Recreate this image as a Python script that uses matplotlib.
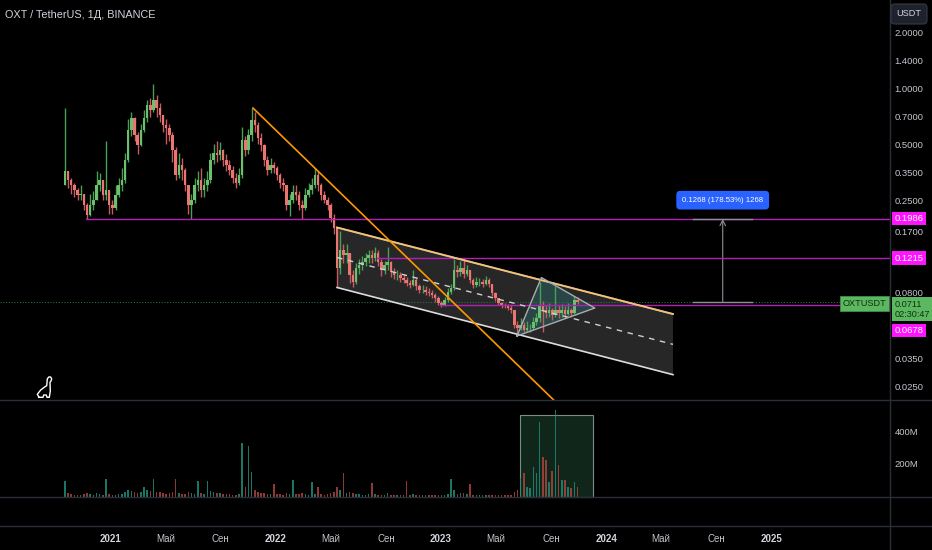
import numpy as np
import matplotlib
matplotlib.use('Agg')
import matplotlib.pyplot as plt
import matplotlib.dates as mdates
from matplotlib.ticker import NullLocator, NullFormatter
from matplotlib.transforms import blended_transform_factory
from matplotlib.patches import Polygon, Rectangle
from matplotlib.lines import Line2D

plt.rcParams['font.family'] = ['Liberation Sans', 'DejaVu Sans']

W, H = 932, 550
bg = '#000000'
sep = '#2a2e39'
txt = '#c3c6ce'

# weekly candles, OXT/USDT
start = '2020-09-21'
first_open = 0.30
closes = [0.36, 0.32, 0.30, 0.283, 0.266, 0.27, 0.235, 0.208, 0.235, 0.25,
          0.30, 0.32, 0.266, 0.283, 0.235, 0.227, 0.266, 0.30, 0.32, 0.41,
          0.595, 0.69, 0.56, 0.494, 0.595, 0.69, 0.81, 0.76, 0.86, 0.78,
          0.716, 0.633, 0.61, 0.56, 0.464, 0.341, 0.386, 0.362, 0.30, 0.235,
          0.25, 0.30, 0.32, 0.283, 0.30, 0.32, 0.41, 0.45, 0.436, 0.464,
          0.41, 0.386, 0.362, 0.33, 0.31, 0.341, 0.525, 0.464, 0.56, 0.673,
          0.633, 0.54, 0.494, 0.41, 0.362, 0.386, 0.37, 0.341, 0.31, 0.30,
          0.235, 0.25, 0.277, 0.266, 0.235, 0.227, 0.266, 0.283, 0.30, 0.341,
          0.30, 0.266, 0.25, 0.235, 0.20, 0.177, 0.108, 0.135, 0.127, 0.13,
          0.099, 0.091, 0.108, 0.112, 0.116, 0.122, 0.127, 0.122, 0.13, 0.116,
          0.105, 0.112, 0.116, 0.102, 0.099, 0.099, 0.095, 0.093, 0.090, 0.087,
          0.093, 0.086, 0.082, 0.082, 0.080, 0.079, 0.077, 0.074, 0.070, 0.068,
          0.0725, 0.080, 0.0838, 0.105, 0.102, 0.108, 0.100, 0.105, 0.093, 0.087,
          0.091, 0.091, 0.088, 0.093, 0.088, 0.079, 0.074, 0.070, 0.068, 0.067,
          0.066, 0.064, 0.053, 0.051, 0.053, 0.050, 0.051, 0.051, 0.055, 0.058,
          0.068, 0.064, 0.062, 0.064, 0.060, 0.064, 0.062, 0.064, 0.061, 0.064,
          0.062, 0.0725, 0.0711]
highs = [0.78, 0.36, 0.33, 0.31, 0.29, 0.30, 0.27, 0.24, 0.27, 0.28,
         0.36, 0.35, 0.30, 0.52, 0.28, 0.25, 0.30, 0.33, 0.37, 0.45,
         0.68, 0.74, 0.70, 0.58, 0.64, 0.76, 0.86, 0.88, 1.05, 0.92,
         0.83, 0.72, 0.68, 0.64, 0.58, 0.48, 0.45, 0.42, 0.37, 0.30,
         0.27, 0.33, 0.36, 0.37, 0.33, 0.36, 0.45, 0.50, 0.52, 0.51,
         0.47, 0.44, 0.41, 0.38, 0.35, 0.37, 0.62, 0.55, 0.60, 0.78,
         0.74, 0.66, 0.57, 0.50, 0.43, 0.42, 0.40, 0.38, 0.35, 0.33,
         0.30, 0.27, 0.30, 0.30, 0.28, 0.25, 0.29, 0.31, 0.33, 0.37,
         0.36, 0.31, 0.28, 0.26, 0.24, 0.21, 0.18, 0.17, 0.145, 0.145,
         0.13, 0.105, 0.115, 0.12, 0.125, 0.13, 0.135, 0.135, 0.14, 0.135,
         0.12, 0.118, 0.14, 0.118, 0.108, 0.105, 0.103, 0.10, 0.096, 0.093,
         0.105, 0.095, 0.088, 0.087, 0.086, 0.084, 0.082, 0.079, 0.076, 0.072,
         0.075, 0.084, 0.088, 0.12, 0.112, 0.118, 0.12, 0.112, 0.105, 0.095,
         0.096, 0.095, 0.094, 0.098, 0.095, 0.088, 0.080, 0.074, 0.071, 0.070,
         0.069, 0.068, 0.064, 0.056, 0.058, 0.055, 0.056, 0.054, 0.059, 0.062,
         0.091, 0.072, 0.068, 0.070, 0.066, 0.086, 0.068, 0.069, 0.067, 0.070,
         0.066, 0.076, 0.075]
lows = [0.30, 0.29, 0.27, 0.26, 0.25, 0.25, 0.22, 0.198, 0.205, 0.22,
        0.25, 0.28, 0.25, 0.25, 0.21, 0.21, 0.22, 0.26, 0.28, 0.31,
        0.40, 0.55, 0.52, 0.44, 0.49, 0.58, 0.66, 0.70, 0.74, 0.70,
        0.66, 0.58, 0.50, 0.52, 0.40, 0.32, 0.33, 0.32, 0.28, 0.21,
        0.198, 0.24, 0.28, 0.26, 0.26, 0.28, 0.31, 0.39, 0.40, 0.41,
        0.38, 0.36, 0.34, 0.31, 0.29, 0.30, 0.33, 0.43, 0.44, 0.52,
        0.58, 0.50, 0.46, 0.38, 0.34, 0.35, 0.35, 0.32, 0.29, 0.28,
        0.22, 0.205, 0.24, 0.25, 0.22, 0.197, 0.22, 0.26, 0.27, 0.29,
        0.28, 0.25, 0.24, 0.22, 0.19, 0.165, 0.085, 0.10, 0.115, 0.115,
        0.09, 0.085, 0.088, 0.10, 0.105, 0.11, 0.115, 0.115, 0.118, 0.11,
        0.098, 0.10, 0.105, 0.097, 0.094, 0.093, 0.091, 0.089, 0.086, 0.084,
        0.086, 0.082, 0.079, 0.079, 0.077, 0.076, 0.074, 0.071, 0.068, 0.0665,
        0.067, 0.071, 0.078, 0.082, 0.096, 0.098, 0.095, 0.098, 0.089, 0.084,
        0.085, 0.086, 0.085, 0.087, 0.085, 0.076, 0.072, 0.068, 0.066, 0.0655,
        0.064, 0.062, 0.051, 0.048, 0.050, 0.049, 0.049, 0.049, 0.050, 0.053,
        0.055, 0.049, 0.058, 0.059, 0.057, 0.059, 0.058, 0.059, 0.058, 0.060,
        0.059, 0.061, 0.069]
volumes = [99, 25, 18, 15, 12, 14, 20, 22, 16, 14,
           25, 20, 14, 111, 18, 14, 12, 16, 18, 30,
           45, 35, 28, 24, 30, 60, 40, 35, 112, 30,
           28, 22, 20, 24, 30, 107, 25, 20, 18, 28,
           24, 20, 99, 22, 18, 99, 35, 28, 22, 25,
           20, 18, 16, 15, 14, 20, 327, 60, 312, 150,
           40, 30, 25, 22, 20, 18, 80, 18, 16, 15,
           25, 20, 100, 18, 16, 22, 18, 15, 90, 20,
           60, 18, 15, 16, 22, 30, 60, 40, 145, 25,
           30, 22, 20, 16, 15, 14, 18, 85, 20, 15,
           14, 12, 25, 14, 12, 11, 12, 10, 99, 12,
           20, 12, 10, 9, 10, 9, 10, 12, 14, 12,
           15, 18, 110, 45, 20, 22, 25, 18, 80, 14,
           12, 11, 10, 12, 11, 15, 12, 10, 9, 10,
           9, 12, 30, 40, 115, 145, 60, 55, 182, 145,
           456, 244, 224, 90, 160, 527, 194, 103, 100, 60,
           55, 91, 60]

# drawings
levels = [0.1986, 0.1215, 0.0678]
level_start = ['2020-11-07', '2022-08-12', '2022-12-29']
last_price = 0.0711
chan_dates = ['2022-05-16', '2024-05-28']
chan_top = [0.178, 0.061]
chan_bot = [0.0847, 0.0288]
trend_dates = ['2021-11-11', '2023-10-22']
trend_prices = [0.781, 0.0165]
tri_dates = ['2023-06-18', '2023-08-11', '2023-12-07']
tri_prices = [0.0465, 0.0958, 0.0657]
meas_dates = ['2024-07-11', '2024-09-15', '2024-11-19']
meas_prices = [0.0711, 0.1979]
meas_text = '0.1268 (178.53%) 1268'
volbox_dates = ['2023-06-24', '2023-12-03']
volbox_top = 499
price_ticks = [2.0, 1.4, 1.0, 0.7, 0.5, 0.35, 0.25, 0.17, 0.08, 0.035, 0.025]
tick_dates = ['2021-01-01', '2021-05-01', '2021-09-01', '2022-01-01', '2022-05-01',
              '2022-09-01', '2023-01-01', '2023-05-01', '2023-09-01', '2024-01-01',
              '2024-05-01', '2024-09-01', '2025-01-01']
tick_labels = ['2021', 'Май', 'Сен', '2022', 'Май', 'Сен', '2023', 'Май', 'Сен',
               '2024', 'Май', 'Сен', '2025']


def dn(s):
    return mdates.date2num(np.datetime64(s))


def dl(lst):
    return [dn(s) for s in lst]


n = len(closes)
c = np.array(closes)
o = np.array([first_open] + closes[:-1])
hi = np.maximum(np.array(highs), np.maximum(o, c))
lo = np.minimum(np.array(lows), np.minimum(o, c))
dates = mdates.date2num(np.datetime64(start) + np.arange(n) * np.timedelta64(7, 'D'))
up = c >= o

fig = plt.figure(figsize=(W / 100, H / 100), dpi=100, facecolor=bg)
ax = fig.add_axes([0, 1 - 400 / H, 890 / W, 400 / H])
axv = fig.add_axes([0, 1 - 526 / H, 890 / W, 126 / H], sharex=ax)
for a in (ax, axv):
    a.set_facecolor(bg)
    for s in a.spines.values():
        s.set_visible(False)

x0 = dn('2021-01-01')
ax.set_xlim(x0 - 245.5, x0 + 1723)
ax.set_yscale('log')
ax.set_ylim(0.02105, 2.972)
xr = ax.get_xlim()[1]

# price pane
ax.add_patch(Polygon(list(zip(dl(chan_dates), chan_top)) + list(zip(dl(chan_dates)[::-1], chan_bot[::-1])),
                     closed=True, fc='#272727', ec='none', zorder=1))
mid = [np.sqrt(chan_top[0] * chan_bot[0]), np.sqrt(chan_top[1] * chan_bot[1])]
ax.plot(dl(chan_dates), chan_top, color='#eeeeee', lw=1.3, zorder=6)
ax.plot(dl(chan_dates), chan_top, color='#ff9800', lw=1.3, alpha=0.5, zorder=6)
ax.plot(dl(chan_dates), chan_bot, color='#dcdcdc', lw=1.2, zorder=6)
ax.plot(dl(chan_dates), mid, color='#d0d0d0', lw=1, ls=(0, (4, 4)), zorder=6)

ax.add_patch(Polygon(list(zip(dl(tri_dates), tri_prices)), closed=True,
                     fc='#2b9a9a', alpha=0.28, ec='none', zorder=2))
ax.plot(dl(tri_dates) + [dn(tri_dates[0])], tri_prices + [tri_prices[0]],
        color='#a9adb3', lw=1, zorder=6)

ax.axhline(last_price, color='#2f6e3c', lw=0.8, ls=(0, (1, 1.5)), zorder=2)
for lv, ls_ in zip(levels, level_start):
    ax.plot([dn(ls_), xr], [lv, lv], color='#b31fb5', lw=1, zorder=5)

wick_c = np.where(up, '#4a9f55', '#c65a64')
body_c = np.where(up, '#6cbf6e', '#e9766f')
ax.vlines(dates, lo, hi, colors=wick_c, lw=1.0, zorder=3)
ax.bar(dates, np.abs(c - o), bottom=np.minimum(o, c), width=5.6,
       color=body_c, linewidth=0, zorder=4)

ax.plot(dl(trend_dates), trend_prices, color='#ff9800', lw=1.2, zorder=7)

# measure tool
md = dl(meas_dates)
ax.plot([md[0], md[2]], [meas_prices[0]] * 2, color='#8d9096', lw=1, zorder=5)
ax.plot([md[0], md[2]], [meas_prices[1]] * 2, color='#8d9096', lw=1, zorder=5)
ax.annotate('', xy=(md[1], meas_prices[1]), xytext=(md[1], meas_prices[0]),
            arrowprops=dict(arrowstyle='->', color='#8d9096', lw=0.8, shrinkA=0, shrinkB=0))
ax.annotate(meas_text, xy=(md[1], meas_prices[1]), xytext=(0, 13.5), textcoords='offset points',
            ha='center', va='center', color='white', fontsize=5.6,
            bbox=dict(boxstyle='round,pad=0.75,rounding_size=0.5', fc='#2962ff', ec='none'))

ax.yaxis.tick_right()
ax.set_yticks(price_ticks)
ax.set_yticklabels([f'{t:.4f}' for t in price_ticks])
ax.yaxis.set_minor_locator(NullLocator())
ax.yaxis.set_minor_formatter(NullFormatter())
ax.tick_params(axis='y', length=0, pad=3.4, labelsize=6.8, labelcolor=txt)
ax.tick_params(axis='x', length=0, labelbottom=False)

# right scale labels
tr = blended_transform_factory(ax.transAxes, ax.transData)
for lv, dy in zip(levels, [0, 0, -18]):
    ax.annotate(f'{lv:.4f}', xy=(1.0, lv), xycoords=tr, xytext=(3.4, dy), textcoords='offset points',
                ha='left', va='center', color='white', fontsize=6.8, annotation_clip=False, zorder=10,
                bbox=dict(boxstyle='square,pad=0.25', fc='#ff14ff', ec='none'))
ax.annotate(f'{last_price:.4f}\n02:30:47', xy=(1.0, last_price), xycoords=tr, xytext=(3.0, -5.5),
            textcoords='offset points', ha='left', va='center', color='#10300f', fontsize=6.6,
            linespacing=1.2, annotation_clip=False, zorder=10,
            bbox=dict(boxstyle='square,pad=0.25', fc='#5cb860', ec='none'))
ax.annotate('OXTUSDT', xy=(1.0, last_price), xycoords=tr, xytext=(-2.4, -1.2),
            textcoords='offset points', ha='right', va='center', color='#10300f', fontsize=6.6,
            annotation_clip=False, zorder=10,
            bbox=dict(boxstyle='square,pad=0.3', fc='#5cb860', ec='#3f8f45', lw=0.6))

# volume pane
axv.set_ylim(-176, 588)
vd = dl(volbox_dates)
axv.add_patch(Rectangle((vd[0], 0), vd[1] - vd[0], volbox_top, fc='#10261a', ec='#7e8d83', lw=0.8, zorder=1))
vol_c = np.where(up, '#1f8a78', '#a8443f')
axv.bar(dates, volumes, width=3.4, color=vol_c, linewidth=0, alpha=0.85, zorder=2)
axv.yaxis.tick_right()
axv.set_yticks([200, 400])
axv.set_yticklabels(['200M', '400M'])
axv.tick_params(axis='y', length=0, pad=3.4, labelsize=6.8, labelcolor=txt)
axv.set_xticks(dl(tick_dates))
axv.set_xticklabels(tick_labels)
axv.tick_params(axis='x', length=0, pad=6, labelsize=7, labelcolor=txt)
for lab in axv.get_xticklabels():
    if lab.get_text().isdigit():
        lab.set_fontweight('bold')
        lab.set_color('#d1d4dc')

# separators
for yy in (400, 497, 526):
    fig.add_artist(Line2D([0, 1], [1 - yy / H] * 2, color=sep, lw=1))
fig.add_artist(Line2D([890 / W] * 2, [0, 1], color=sep, lw=1))

# dinosaur logo
dino = [(39, 397.3), (37.3, 394.3), (40.7, 390), (45, 386.7), (46.7, 385.7), (47.3, 379),
        (48.7, 377), (50.7, 377), (51.7, 379), (51, 381), (50, 382.3), (50.3, 391),
        (49.3, 397.3), (47, 397.3), (46.3, 395), (43.7, 395), (43, 397.3), (39, 397.3)]
fig.add_artist(Line2D([p[0] / W for p in dino], [1 - p[1] / H for p in dino], color='white', lw=1))

fig.text(5 / W, 1 - 15 / H, 'OXT / TetherUS, 1Д, BINANCE', fontsize=7.8, color='#d1d4dc', va='center')
fig.text(909 / W, 1 - 14 / H, 'USDT', ha='center', va='center', fontsize=6.6, color='#d1d4dc',
         bbox=dict(boxstyle='round,pad=0.6,rounding_size=0.4', fc='#1e222d', ec='#363a45', lw=0.8))

fig.savefig('out.png', dpi=100, facecolor=bg)
